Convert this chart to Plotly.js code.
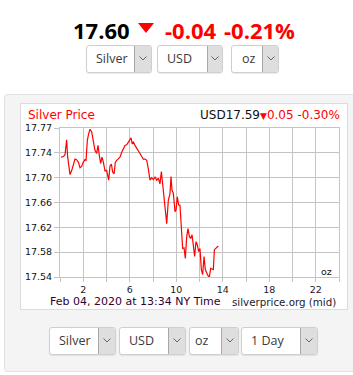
<!DOCTYPE html>
<html>
<head>
<meta charset="utf-8">
<script src="https://cdn.plot.ly/plotly-3.0.1.min.js"></script>
<style>
  html, body { margin:0; padding:0; background:#fff; }
  body { width:353px; height:375px; position:relative; overflow:hidden; font-family:'Open Sans', sans-serif; }
  .abs { position:absolute; }
  .num { position:absolute; font-weight:700; font-size:22px; line-height:22px; white-space:nowrap; }
  .sel { position:absolute; box-sizing:border-box; border:1px solid #cfcfcf; border-radius:3px; background:#fff;
         box-shadow:0 1px 1px rgba(0,0,0,0.08); overflow:hidden; }
  .sel .txt { position:absolute; top:0; font-size:12.5px; color:#3a3a3a; white-space:nowrap; }
  .sel .arr { position:absolute; top:0; bottom:0; right:0; background:#dedede; border-left:1px solid #a8a8a8; }
  .sel .arr svg { position:absolute; left:50%; top:50%; margin-left:-4px; margin-top:-3px; }
  #panel { position:absolute; left:4px; top:94px; width:370px; height:278px; box-sizing:border-box;
           background:#f4f4f4; border:1px solid #e2e2e2; border-radius:3px; }
  #box { position:absolute; left:20px; top:103px; width:328px; height:207px; box-sizing:border-box;
         background:#fff; border:1px solid #dcdcdc; }
  #chart { position:absolute; left:20px; top:103px; width:328px; height:207px; }
</style>
</head>
<body>
<div class="num" style="left:73px; top:19px; color:#000;">17.60</div>
<div class="abs" style="left:138px; top:23px; width:0; height:0; border-left:8.5px solid transparent; border-right:8.5px solid transparent; border-top:10px solid #ff0000;"></div>
<div class="num" style="left:165px; top:19px; color:#ff0000;">-0.04</div>
<div class="num" style="left:224px; top:19px; color:#ff0000;">-0.21%</div>

<div id="panel"></div>
<div id="box"></div>
<div id="chart"></div>
<div id="sels"></div>

<script>
// ---- data (hours since midnight NY time, price USD/oz) ----
const hours = [0.09,0.29,0.43,0.49,0.57,0.66,0.77,0.86,1.00,1.15,1.29,1.43,1.58,1.72,1.86,2.01,2.15,2.24,2.35,2.47,2.58,2.72,2.87,3.01,3.15,3.27,3.38,3.50,3.61,3.73,3.87,4.01,4.19,4.30,4.42,4.53,4.65,4.76,4.88,5.02,5.16,5.31,5.45,5.59,5.74,5.88,6.11,6.22,6.31,6.45,6.60,6.74,6.88,7.03,7.17,7.31,7.46,7.60,7.74,7.89,8.03,8.17,8.32,8.46,8.60,8.72,8.83,8.95,9.03,9.18,9.32,9.46,9.55,9.63,9.75,9.89,9.98,10.09,10.21,10.32,10.47,10.55,10.67,10.78,10.90,11.01,11.13,11.24,11.36,11.47,11.58,11.70,11.81,11.93,12.04,12.16,12.27,12.39,12.50,12.62,12.73,12.85,12.96,13.08,13.19,13.28,13.42,13.62];
const prices = [17.733,17.734,17.737,17.752,17.761,17.733,17.711,17.705,17.711,17.719,17.730,17.729,17.725,17.716,17.718,17.725,17.729,17.728,17.760,17.771,17.778,17.774,17.760,17.744,17.739,17.752,17.736,17.723,17.733,17.725,17.711,17.712,17.696,17.719,17.722,17.709,17.706,17.725,17.728,17.730,17.733,17.741,17.748,17.752,17.753,17.757,17.764,17.754,17.758,17.752,17.748,17.743,17.739,17.734,17.730,17.730,17.728,17.714,17.696,17.700,17.697,17.701,17.696,17.699,17.690,17.710,17.691,17.673,17.658,17.626,17.664,17.674,17.702,17.680,17.675,17.645,17.648,17.669,17.656,17.656,17.610,17.586,17.587,17.570,17.605,17.618,17.605,17.602,17.608,17.589,17.573,17.597,17.592,17.581,17.586,17.552,17.544,17.573,17.552,17.547,17.542,17.540,17.554,17.553,17.552,17.584,17.587,17.590];

const xTickVals = [0,2,4,6,8,10,12,14,16,18,20,22,24];
const xTickText = ['','2','','6','','10','','14','','18','','22',''];
const yTickVals = [17.54,17.58,17.62,17.66,17.70,17.74,17.78];
const yTickText = ['17.54','17.58','17.62','17.66','17.70','17.74','17.77'];

const titleText = 'Silver Price';
const quoteCurrency = 'USD';
const quotePrice = '17.59';
const quoteChange = '0.05';
const quotePct = '-0.30%';
const dateText = 'Feb 04, 2020 at 13:34 NY Time';
const sourceText = 'silverprice.org (mid)';
const unitText = 'oz';

const gridCol = '#c4c4c4';
const F = 'DejaVu Sans, Verdana, sans-serif';

const trace = {
  x: hours, y: prices, type: 'scatter', mode: 'lines',
  line: { color: '#ff0000', width: 1.2 }, hoverinfo: 'skip'
};

const axisCommon = {
  showgrid: true, gridcolor: gridCol, gridwidth: 1,
  showline: true, linecolor: gridCol, linewidth: 1, mirror: true,
  ticks: 'outside', ticklen: 5, tickcolor: gridCol, tickwidth: 1,
  zeroline: false, fixedrange: true
};

const layout = {
  width: 328, height: 207,
  margin: { l: 40, r: 9, t: 25, b: 33, pad: 0 },
  paper_bgcolor: 'rgba(0,0,0,0)', plot_bgcolor: '#fff',
  showlegend: false,
  font: { family: F, size: 9.5, color: '#111' },
  xaxis: Object.assign({}, axisCommon, {
    range: [0, 24], tickmode: 'array', tickvals: xTickVals, ticktext: xTickText, ticklen: 4,
    tickfont: { family: F, size: 9.5, color: '#1a1a2e' }
  }),
  yaxis: Object.assign({}, axisCommon, {
    range: [17.54, 17.78], tickmode: 'array', tickvals: yTickVals, ticktext: yTickText,
    tickfont: { family: F, size: 9.5, color: '#111' }
  }),
  annotations: [
    { xref: 'paper', yref: 'paper', x: -0.122, y: 1.088, xanchor: 'left', yanchor: 'middle',
      text: titleText, showarrow: false, font: { family: F, size: 12, color: '#ff0000' } },
    { xref: 'paper', yref: 'paper', x: 1.01, y: 1.088, xanchor: 'right', yanchor: 'middle', showarrow: false,
      text: quoteCurrency + quotePrice + '<span style="fill:#ff0000;font-size:9px">▼</span>' +
            '<span style="fill:#ff0000">' + quoteChange + ' ' + quotePct + '</span>',
      font: { family: F, size: 12, color: '#111' } },
    { xref: 'paper', yref: 'paper', x: -0.043, y: -0.165, xanchor: 'left', yanchor: 'middle',
      text: dateText, showarrow: false, font: { family: F, size: 11, color: '#300030' } },
    { xref: 'paper', yref: 'paper', x: 0.996, y: -0.165, xanchor: 'right', yanchor: 'middle',
      text: sourceText, showarrow: false, font: { family: F, size: 10.3, color: '#1a1a2e' } },
    { xref: 'paper', yref: 'paper', x: 0.982, y: 0.04, xanchor: 'right', yanchor: 'middle',
      text: unitText, showarrow: false, font: { family: F, size: 9.5, color: '#111' } }
  ]
};

Plotly.newPlot('chart', [trace], layout, { staticPlot: true, displayModeBar: false });

// ---- select-like controls ----
const topSel = [
  { text: 'Silver', left: 86, right: 152, arrow: 17, pad: 10 },
  { text: 'USD', left: 157, right: 223, arrow: 15, pad: 10 },
  { text: 'oz', left: 231, right: 279, arrow: 16, pad: 11 }
];
const botSel = [
  { text: 'Silver', left: 49, right: 116, arrow: 17, pad: 10 },
  { text: 'USD', left: 119, right: 186, arrow: 17, pad: 10 },
  { text: 'oz', left: 189, right: 239, arrow: 17, pad: 6 },
  { text: '1 Day', left: 241, right: 318, arrow: 17, pad: 10 }
];
const chevron = '<svg width="8" height="5" viewBox="0 0 8 5"><polyline points="0.5,0.5 4,4 7.5,0.5" fill="none" stroke="#666" stroke-width="1"/></svg>';
function addSel(s, top, h) {
  const d = document.createElement('div');
  d.className = 'sel';
  d.style.left = s.left + 'px'; d.style.top = top + 'px';
  d.style.width = (s.right - s.left) + 'px'; d.style.height = h + 'px';
  d.innerHTML = '<div class="txt" style="left:' + (s.pad - 1) + 'px; line-height:' + (h - 2) + 'px">' + s.text + '</div>' +
                '<div class="arr" style="width:' + (s.arrow - 1) + 'px">' + chevron + '</div>';
  document.getElementById('sels').appendChild(d);
}
topSel.forEach(s => addSel(s, 45, 28));
botSel.forEach(s => addSel(s, 327, 28));
</script>
</body>
</html>
